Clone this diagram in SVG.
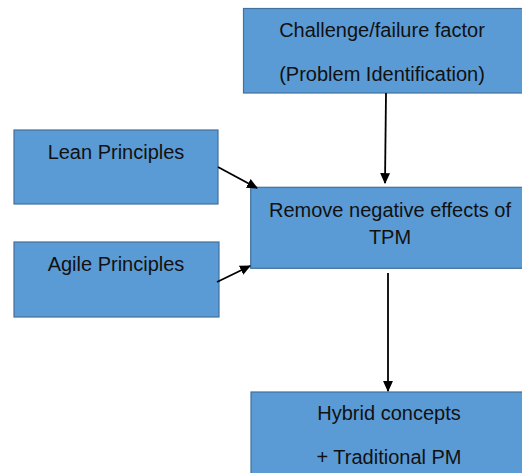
<svg xmlns="http://www.w3.org/2000/svg" width="522" height="473" viewBox="0 0 522 473">
<defs>
<style>
.box{fill:#5b9bd5;stroke:#41719c;stroke-width:1.2}
.t{font-family:"Liberation Sans",Arial,sans-serif;font-size:20px;fill:#111;text-anchor:middle}
.c{stroke:#000;stroke-width:1.8;fill:none;marker-end:url(#ah)}
</style>
<marker id="ah" viewBox="0 0 10 10" refX="9" refY="5" markerWidth="11" markerHeight="11" markerUnits="userSpaceOnUse" orient="auto">
<path d="M0,0.5 L10,5 L0,9.5 z" fill="#000"/>
</marker>
</defs>
<rect width="522" height="473" fill="#fff"/>
<g id="challenge">
<rect class="box" x="243.5" y="8.5" width="280" height="84.5"/>
<text class="t" x="382" y="37">Challenge/failure factor</text>
<text class="t" x="382" y="81">(Problem Identification)</text>
</g>
<g id="lean">
<rect class="box" x="14" y="130" width="204" height="74"/>
<text class="t" x="116" y="159">Lean Principles</text>
</g>
<g id="agile">
<rect class="box" x="14" y="242" width="205" height="75"/>
<text class="t" x="116" y="271">Agile Principles</text>
</g>
<g id="remove">
<rect class="box" x="250.7" y="187.3" width="275" height="81"/>
<text class="t" x="390" y="217">Remove negative effects of</text>
<text class="t" x="390" y="244">TPM</text>
</g>
<g id="hybrid">
<rect class="box" x="251" y="392" width="275" height="90"/>
<text class="t" x="389" y="420">Hybrid concepts</text>
<text class="t" x="389" y="464">+ Traditional PM</text>
</g>
<g id="connectors">
<line class="c" x1="386" y1="93" x2="385" y2="183"/>
<line class="c" x1="218" y1="167" x2="257" y2="188"/>
<line class="c" x1="217" y1="282" x2="250" y2="266"/>
<line class="c" x1="388" y1="273" x2="388" y2="391"/>
</g>
</svg>
